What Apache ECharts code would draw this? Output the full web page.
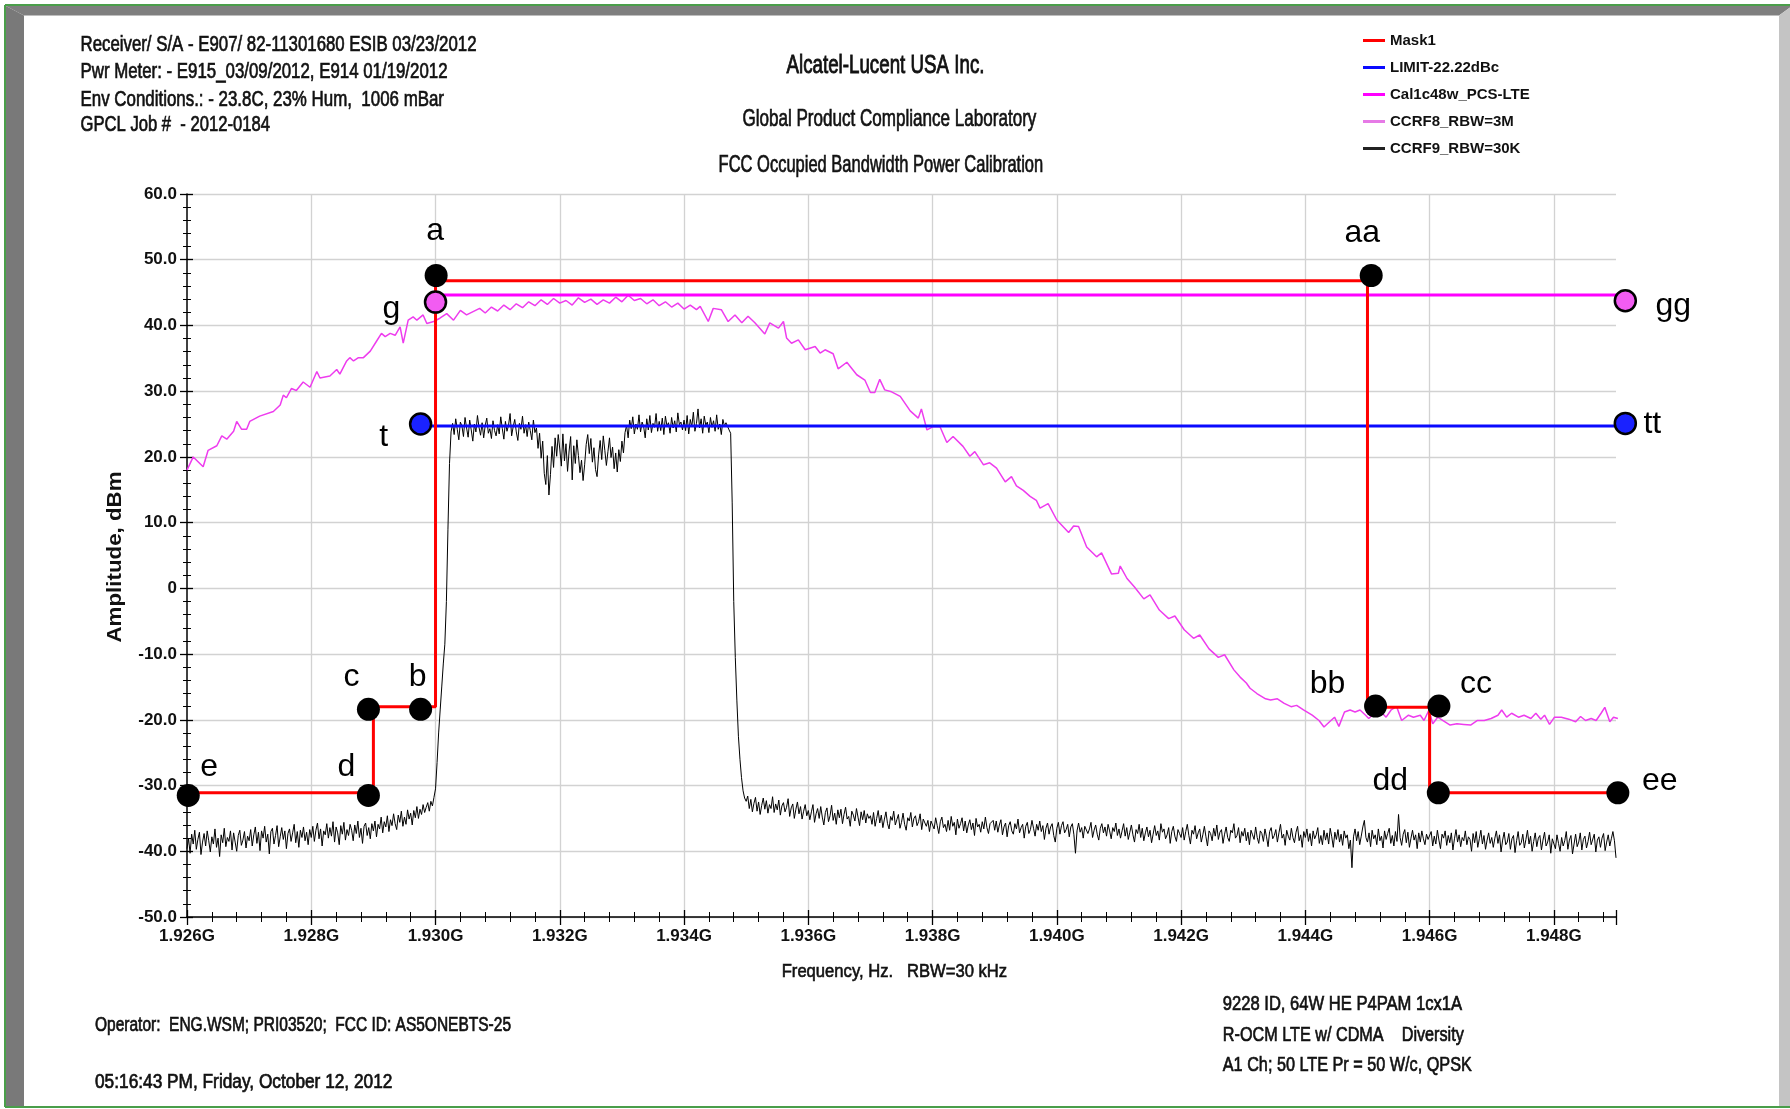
<!DOCTYPE html>
<html><head><meta charset="utf-8">
<script src="https://cdn.jsdelivr.net/npm/echarts@6.0.0/dist/echarts.min.js"></script>
<style>html,body{margin:0;padding:0;background:#fff}#c{width:1790px;height:1109px}</style>
</head><body><div id="c"></div>
<script>
// ---------------- DATA ----------------
// Frequencies in MHz, amplitudes in dBm
const X_MIN = 1926, X_MAX = 1949, X_STEP = 2;
const Y_MIN = -50, Y_MAX = 60, Y_STEP = 10;

const LEGEND_NAMES = ['Mask1', 'LIMIT-22.22dBc', 'Cal1c48w_PCS-LTE', 'CCRF8_RBW=3M', 'CCRF9_RBW=30K'];

// Mask1 (red) path
const MASK_FREQ = [1926.0, 1929.0, 1929.0, 1930.0, 1930.0, 1945.0, 1945.0, 1946.0, 1946.0, 1949.0];
const MASK_AMP  = [-31.1, -31.1, -18.0, -18.0, 46.8, 46.8, -18.1, -18.1, -31.1, -31.1];

// LIMIT-22.22dBc (blue)
const LIMIT_FREQ = [1929.76, 1949.15];
const LIMIT_AMP  = [24.7, 24.7];

// Cal1c48w_PCS-LTE (magenta)
const CAL_FREQ = [1930.0, 1949.15];
const CAL_AMP  = [44.65, 44.65];

// Marker points
const MASK_PT_NAMES = ['a', 'aa', 'b', 'bb', 'c', 'cc', 'd', 'dd', 'e', 'ee'];
const MASK_PT_FREQ  = [1930.01, 1945.06, 1929.76, 1945.13, 1928.92, 1946.15, 1928.92, 1946.14, 1926.02, 1949.03];
const MASK_PT_AMP   = [47.6, 47.6, -18.4, -17.9, -18.4, -17.9, -31.5, -31.1, -31.5, -31.1];
const CAL_PT_NAMES = ['g', 'gg'];
const CAL_PT_FREQ  = [1930.0, 1949.15];
const CAL_PT_AMP   = [43.55, 43.75];
const LIMIT_PT_NAMES = ['t', 'tt'];
const LIMIT_PT_FREQ  = [1929.76, 1949.15];
const LIMIT_PT_AMP   = [25.0, 25.1];

// CCRF8_RBW=3M trace (light magenta)
const CCRF8_FREQ = [1926.00,1926.10,1926.26,1926.34,1926.48,1926.56,1926.64,1926.75,1926.80,1926.88,1926.96,1927.01,1927.17,1927.39,1927.50,1927.55,1927.60,1927.68,1927.76,1927.87,1927.98,1928.09,1928.14,1928.30,1928.41,1928.46,1928.57,1928.62,1928.68,1928.76,1928.84,1928.95,1929.05,1929.13,1929.19,1929.27,1929.35,1929.43,1929.48,1929.56,1929.64,1929.70,1929.80,1929.86,1929.97,1930.07,1930.18,1930.29,1930.40,1930.50,1930.71,1930.80,1930.90,1931.00,1931.10,1931.20,1931.30,1931.40,1931.50,1931.60,1931.70,1931.80,1931.90,1932.00,1932.10,1932.20,1932.30,1932.40,1932.50,1932.60,1932.70,1932.80,1932.90,1933.00,1933.10,1933.20,1933.30,1933.40,1933.50,1933.60,1933.70,1933.80,1933.90,1934.00,1934.10,1934.20,1934.26,1934.39,1934.47,1934.60,1934.71,1934.82,1934.93,1935.03,1935.14,1935.30,1935.38,1935.52,1935.60,1935.65,1935.73,1935.84,1935.95,1936.11,1936.19,1936.27,1936.40,1936.48,1936.62,1936.78,1936.91,1937.00,1937.07,1937.15,1937.23,1937.34,1937.48,1937.64,1937.77,1937.82,1937.91,1938.01,1938.12,1938.23,1938.33,1938.49,1938.60,1938.68,1938.82,1938.92,1939.03,1939.17,1939.27,1939.35,1939.46,1939.57,1939.67,1939.73,1939.86,1940.00,1940.19,1940.27,1940.35,1940.48,1940.64,1940.72,1940.88,1940.99,1941.02,1941.13,1941.25,1941.40,1941.50,1941.65,1941.80,1941.90,1942.05,1942.20,1942.30,1942.45,1942.60,1942.70,1942.85,1942.95,1943.05,1943.11,1943.22,1943.36,1943.44,1943.55,1943.66,1943.77,1943.86,1943.97,1944.11,1944.22,1944.30,1944.39,1944.47,1944.54,1944.63,1944.72,1944.80,1944.88,1944.97,1945.02,1945.11,1945.22,1945.30,1945.38,1945.47,1945.55,1945.66,1945.74,1945.85,1945.91,1945.99,1946.05,1946.13,1946.21,1946.33,1946.44,1946.55,1946.66,1946.77,1946.88,1946.99,1947.10,1947.16,1947.24,1947.32,1947.43,1947.52,1947.63,1947.71,1947.79,1947.85,1947.93,1948.01,1948.12,1948.24,1948.35,1948.43,1948.51,1948.60,1948.68,1948.76,1948.82,1948.90,1948.96,1949.03];
const CCRF8_AMP = [18.0,20.0,18.5,21.0,21.7,23.2,22.7,23.9,25.4,24.2,24.2,25.4,26.2,26.9,27.9,29.4,29.0,30.4,30.1,31.4,30.6,33.0,32.0,32.3,33.3,32.6,34.6,35.1,34.6,35.1,35.1,36.1,37.6,38.8,38.3,38.8,38.5,39.8,37.3,40.8,41.3,40.8,41.6,40.3,40.6,41.1,41.8,40.8,42.3,41.6,42.6,41.9,42.8,42.2,43.1,42.4,43.3,42.7,43.6,43.0,43.9,43.2,44.1,43.4,43.8,43.1,44.2,43.5,44.0,43.2,43.9,43.4,44.3,43.6,44.6,43.8,44.1,43.3,43.9,43.0,43.6,42.8,43.4,42.5,43.1,42.4,42.9,40.6,42.6,42.4,40.6,41.6,40.4,41.4,40.4,38.7,40.4,39.6,40.6,38.1,37.3,37.8,36.3,36.8,35.8,36.3,35.7,33.4,34.4,32.5,31.7,29.8,29.8,31.8,30.2,29.9,29.2,27.0,25.9,27.3,24.1,24.6,24.6,22.2,23.1,21.6,20.1,20.8,18.8,19.1,18.3,16.2,17.0,15.6,14.9,14.0,13.4,12.2,12.9,10.4,8.5,9.5,9.4,6.3,4.8,5.4,2.2,2.3,3.4,1.5,0.2,-1.6,-1.0,-3.3,-4.6,-4.2,-6.3,-7.6,-7.1,-9.2,-10.5,-10.1,-12.4,-13.5,-14.4,-15.2,-16.0,-16.8,-17.0,-16.8,-17.5,-18.0,-17.8,-18.5,-19.3,-20.1,-21.1,-20.3,-19.6,-21.0,-18.8,-18.5,-18.8,-18.5,-19.3,-19.8,-19.0,-18.8,-19.6,-18.5,-18.0,-20.1,-19.3,-19.6,-19.3,-20.1,-18.5,-20.6,-19.6,-20.1,-20.8,-20.6,-20.7,-20.8,-20.1,-20.1,-19.8,-19.3,-18.5,-19.6,-19.0,-19.6,-19.3,-19.8,-19.0,-19.9,-19.3,-20.7,-19.6,-19.6,-19.9,-20.3,-19.5,-20.1,-19.8,-20.1,-19.0,-18.1,-20.3,-19.6,-19.8];

// CCRF9_RBW=30K trace (black): sweep from 1926 MHz in 0.025 MHz steps (40 readings per MHz)
const CCRF9_START = 1926.0, CCRF9_STEP = 0.025;
const CCRF9_AMP = [
// 1926
-39.6,-38.1,-40.3,-37.4,-38.9,-36.8,-39.7,-38.2,-37.1,-40.5,-38.6,-37.3,-39.2,-36.9,-38.4,-40.1,-37.8,-38.9,-36.6,-39.4,
-38.0,-40.8,-37.5,-38.7,-36.5,-39.3,-37.9,-38.5,-36.9,-39.8,-37.2,-38.6,-40.0,-37.6,-36.8,-39.1,-38.3,-37.0,-39.5,-37.7,
// 1927
-38.4,-36.7,-39.2,-37.5,-36.3,-38.8,-37.1,-39.9,-36.9,-38.0,-36.2,-38.6,-37.4,-40.4,-37.0,-36.5,-38.9,-37.6,-36.1,-39.3,
-37.8,-36.4,-38.2,-36.9,-39.6,-37.3,-36.6,-38.5,-37.2,-35.9,-38.7,-37.0,-39.4,-36.8,-37.9,-36.3,-38.4,-37.1,-39.0,-36.7,
// 1928
-37.9,-36.2,-38.5,-36.8,-35.7,-38.1,-36.6,-39.2,-36.9,-37.5,-35.8,-38.0,-36.4,-37.7,-35.5,-38.6,-36.3,-37.2,-39.0,-36.1,
-37.4,-35.6,-38.3,-36.7,-37.6,-35.9,-36.8,-38.4,-36.0,-37.3,-35.4,-37.9,-36.5,-38.8,-36.2,-35.7,-37.6,-36.4,-38.1,-35.8,
// 1929
-36.9,-35.4,-37.8,-35.9,-36.6,-34.8,-37.2,-35.5,-36.3,-34.6,-37.0,-35.2,-36.1,-34.3,-35.8,-36.7,-34.5,-35.6,-33.9,-36.2,
-34.8,-35.9,-33.7,-35.1,-34.2,-36.0,-33.8,-34.9,-33.2,-35.0,-33.6,-34.4,-32.9,-34.1,-33.3,-32.6,-33.9,-32.4,-33.1,-31.8,
// 1930
-30.5,-26.5,-22.0,-18.5,-15.0,-11.5,-8.5,-2.0,9.0,19.0,23.8,25.1,23.4,25.8,24.2,22.6,25.3,24.7,23.1,26.0,
24.4,23.0,25.6,24.1,22.4,25.0,23.8,26.3,24.5,23.3,25.2,22.9,24.8,25.9,23.6,24.3,22.8,25.5,24.0,23.2,
// 1931
24.9,23.5,26.1,24.3,22.7,25.4,23.9,24.8,26.6,23.2,24.6,25.7,23.8,22.5,25.1,24.2,26.2,23.6,24.9,23.1,
25.3,24.0,22.6,25.6,23.7,24.4,21.3,23.6,19.8,22.4,17.5,15.8,20.2,14.2,17.3,21.6,18.4,22.9,20.1,23.4,
// 1932
21.2,18.6,23.5,19.4,22.0,17.8,20.9,23.1,16.5,21.7,19.0,22.6,20.2,17.6,19.5,16.4,18.8,21.9,23.4,20.5,
22.8,19.2,21.4,18.1,17.0,20.3,22.5,19.6,23.2,21.0,18.7,20.8,22.9,19.9,21.5,18.2,20.6,17.7,21.1,19.3,
// 1933
22.4,20.6,23.7,24.8,22.9,25.6,24.3,26.1,23.5,25.0,24.2,26.4,23.8,25.3,24.6,22.9,25.8,24.1,26.3,23.7,
25.1,24.5,26.6,23.9,25.4,24.0,25.9,23.4,26.2,24.7,25.2,23.6,26.0,24.4,25.5,23.8,26.7,24.9,25.3,24.1,
// 1934
25.6,24.0,26.3,23.5,25.7,24.6,26.8,23.9,25.1,27.3,24.4,25.8,23.6,26.2,24.8,25.3,23.7,26.0,24.5,25.5,
23.9,26.4,24.2,25.0,23.4,25.7,24.7,25.2,25.0,24.1,23.6,13.0,-2.0,-10.5,-17.0,-22.5,-26.0,-28.8,-30.8,-31.9,
// 1935
-32.4,-31.6,-33.5,-32.1,-34.0,-32.7,-31.8,-33.9,-32.5,-34.4,-33.0,-31.9,-33.6,-32.3,-34.2,-32.9,-33.5,-31.7,-34.1,-32.8,
-33.7,-32.2,-34.5,-33.1,-32.6,-34.0,-33.3,-32.0,-34.7,-33.4,-32.8,-35.0,-33.6,-32.5,-34.3,-33.2,-35.1,-33.9,-32.9,-34.6,
// 1936
-33.8,-35.2,-34.0,-32.9,-35.6,-34.3,-33.5,-35.0,-33.2,-34.8,-36.0,-34.1,-33.4,-35.5,-34.6,-33.0,-35.3,-34.2,-35.9,-33.7,
-34.9,-33.6,-35.8,-34.4,-33.3,-35.1,-34.7,-36.2,-33.9,-34.5,-35.4,-33.5,-34.8,-36.1,-34.0,-35.2,-33.8,-35.7,-34.3,-35.0,
// 1937
-34.6,-35.9,-34.1,-36.2,-35.0,-33.8,-35.7,-34.5,-36.4,-35.1,-34.0,-35.8,-36.6,-34.7,-35.3,-33.9,-36.0,-35.2,-34.4,-36.5,
-35.6,-34.2,-35.9,-36.8,-34.9,-35.4,-34.1,-36.3,-35.0,-34.6,-36.1,-35.5,-34.3,-36.7,-35.1,-34.8,-36.2,-35.3,-37.0,-35.4,
// 1938
-35.2,-36.6,-34.9,-36.1,-37.3,-35.5,-34.8,-36.4,-35.9,-37.0,-35.3,-36.8,-34.7,-36.2,-35.6,-37.5,-35.1,-36.5,-35.8,-34.9,
-36.9,-35.4,-37.2,-36.0,-35.2,-36.7,-35.7,-37.6,-35.0,-36.3,-35.9,-37.1,-35.5,-36.6,-34.8,-36.4,-37.3,-35.8,-36.1,-35.3,
// 1939
-36.8,-35.4,-37.1,-36.0,-35.2,-37.5,-36.3,-35.7,-37.8,-36.1,-35.5,-36.9,-37.4,-35.8,-36.6,-35.1,-37.2,-36.4,-35.9,-38.0,
-36.2,-35.6,-37.3,-36.7,-35.3,-36.5,-37.7,-35.9,-36.8,-35.4,-37.0,-36.1,-38.2,-36.5,-35.7,-37.4,-36.3,-35.8,-37.6,-38.6,
// 1940
-36.5,-35.6,-37.4,-36.1,-35.5,-37.2,-36.7,-35.9,-37.8,-36.3,-35.8,-37.5,-40.3,-36.9,-35.7,-37.1,-36.4,-38.0,-36.2,-35.9,
-37.3,-36.6,-35.6,-37.9,-36.8,-36.0,-37.4,-38.3,-36.5,-35.8,-37.2,-36.3,-37.7,-35.9,-36.9,-38.1,-36.4,-37.0,-35.7,-37.6,
// 1941
-36.6,-38.0,-36.9,-35.8,-37.7,-36.4,-38.2,-37.1,-36.0,-37.5,-38.6,-36.7,-37.3,-35.9,-37.9,-36.5,-38.4,-37.2,-36.3,-37.8,
-36.8,-38.7,-37.4,-36.1,-37.6,-36.9,-38.3,-35.8,-37.1,-36.6,-38.1,-37.5,-36.4,-38.8,-37.0,-36.2,-37.7,-38.5,-36.7,-37.3,
// 1942
-37.9,-36.4,-38.3,-37.0,-35.9,-37.6,-38.9,-36.8,-37.4,-36.1,-38.1,-37.2,-36.6,-38.6,-37.5,-36.2,-37.8,-39.2,-36.9,-37.3,
-38.4,-36.5,-37.7,-36.0,-38.2,-37.1,-36.7,-38.8,-37.4,-36.3,-37.9,-38.5,-36.8,-37.2,-35.8,-38.0,-37.6,-36.4,-38.7,-37.0,
// 1943
-37.7,-36.5,-38.4,-37.1,-39.0,-36.8,-37.5,-38.2,-36.3,-37.9,-38.8,-36.9,-37.3,-38.5,-36.6,-37.8,-39.3,-37.0,-36.4,-38.1,
-37.6,-36.7,-38.6,-37.2,-35.9,-38.0,-37.4,-39.1,-36.8,-37.7,-38.3,-36.5,-37.9,-38.7,-37.1,-36.2,-38.4,-37.5,-39.4,-37.0,
// 1944
-37.9,-36.6,-38.5,-37.3,-39.2,-36.9,-38.1,-37.5,-36.4,-38.8,-37.6,-39.0,-36.8,-38.3,-37.2,-38.9,-36.5,-37.8,-39.4,-37.1,
-38.2,-36.7,-38.6,-37.4,-39.1,-36.9,-38.0,-37.5,-39.6,-38.3,-42.5,-37.8,-36.6,-38.4,-37.0,-39.0,-37.7,-36.3,-35.3,-37.9,
// 1945
-38.6,-37.2,-39.3,-36.8,-38.1,-37.5,-39.0,-36.6,-38.4,-37.7,-39.5,-36.9,-38.2,-37.3,-36.5,-38.8,-37.6,-39.2,-37.0,-38.5,
-34.4,-37.9,-39.1,-37.4,-36.7,-38.7,-37.1,-39.4,-38.0,-36.8,-38.3,-37.5,-39.6,-37.2,-38.6,-36.9,-38.1,-39.0,-37.4,-38.2,
// 1946
-38.5,-37.0,-39.2,-37.7,-38.9,-36.8,-38.3,-39.6,-37.4,-38.0,-36.9,-39.1,-37.6,-38.7,-37.2,-39.8,-38.1,-36.7,-38.6,-37.5,
-39.3,-37.9,-38.4,-36.9,-39.0,-37.8,-38.2,-40.0,-37.3,-38.7,-37.0,-39.4,-38.1,-36.8,-38.9,-37.6,-39.7,-38.3,-37.2,-38.8,
// 1947
-37.9,-39.4,-38.0,-36.9,-38.8,-37.5,-40.1,-38.3,-37.1,-39.0,-38.6,-37.3,-39.7,-38.1,-37.6,-40.2,-38.4,-37.0,-39.1,-38.7,
-37.4,-39.5,-38.2,-36.8,-38.9,-37.7,-40.0,-38.5,-37.2,-39.3,-38.0,-37.6,-39.8,-38.3,-37.1,-39.2,-38.6,-37.5,-40.3,-38.1,
// 1948
-38.0,-39.6,-37.5,-38.8,-40.0,-37.9,-39.2,-38.4,-37.0,-39.7,-38.3,-37.6,-40.4,-38.9,-37.4,-39.3,-38.6,-37.2,-39.8,-38.2,
-37.7,-39.5,-38.5,-37.1,-39.0,-38.8,-37.4,-40.1,-38.3,-37.8,-39.4,-38.0,-37.3,-39.9,-38.6,-37.5,-39.2,-38.1,-37.0,-38.4,
// 1949
-41.0];

// Annotation texts
const HEADER_LINES = [
  'Receiver/ S/A - E907/ 82-11301680 ESIB 03/23/2012',
  'Pwr Meter: - E915_03/09/2012, E914 01/19/2012',
  'Env Conditions.: - 23.8C, 23% Hum,  1006 mBar',
  'GPCL Job #  - 2012-0184'
];
const TITLE_LINES = ['Alcatel-Lucent USA Inc.', 'Global Product Compliance Laboratory', 'FCC Occupied Bandwidth Power Calibration'];
const FOOTER_LEFT = ['Operator:  ENG.WSM; PRI03520;  FCC ID: AS5ONEBTS-25', '05:16:43 PM, Friday, October 12, 2012'];
const FOOTER_RIGHT = ['9228 ID, 64W HE P4PAM 1cx1A', 'R-OCM LTE w/ CDMA    Diversity', 'A1 Ch; 50 LTE Pr = 50 W/c, QPSK'];
const X_NAME = 'Frequency, Hz.   RBW=30 kHz';
const Y_NAME = 'Amplitude, dBm';

// ---------------- STYLE / LAYOUT ----------------
const LABEL_OFFSET = {
  a: [-1, -44], aa: [-9, -42], b: [-3, -32], bb: [-48, -22], c: [-17, -32], cc: [37, -22],
  d: [-22, -28], dd: [-48, -12], e: [21, -28], ee: [42, -12],
  g: [-44, 7], gg: [48, 5], t: [-37, 13], tt: [27, 1]
};

const ctx = document.createElement('canvas').getContext('2d');
const BASE = '"Liberation Sans", Arial, sans-serif';

function fitText(text, x, y, size, targetW, align, bold, rot, heavy) {
  const font = (bold ? 'bold ' : '') + size + 'px ' + BASE;
  ctx.font = font;
  const w = ctx.measureText(text).width;
  return {
    type: 'text', x: x, y: y, scaleX: targetW / w, rotation: rot || 0, z: 20, silent: true,
    style: { text: text, x: 0, y: 0, font: font, fill: '#111', stroke: heavy ? '#111' : null, lineWidth: heavy || 0,
             align: align, verticalAlign: 'middle' }
  };
}

const graphics = [
  // frame
  { type: 'polygon', z: 1, silent: true, shape: { points: [[6, 6], [1790, 6], [1790, 7.5], [1779, 15.5], [24, 15.5]] }, style: { fill: '#7f7f7f' } },
  { type: 'polygon', z: 1, silent: true, shape: { points: [[6, 6], [24, 15.5], [24, 1106], [6, 1106]] }, style: { fill: '#797979' } },
  { type: 'polygon', z: 1, silent: true, shape: { points: [[1779, 15.5], [1790, 7.5], [1790, 1106], [1779, 1106]] }, style: { fill: '#c4c4c4' } },
  { type: 'line', z: 2, silent: true, shape: { x1: 5, y1: 5, x2: 1790, y2: 5 }, style: { stroke: '#4a9e4a', lineWidth: 2 } },
  { type: 'line', z: 2, silent: true, shape: { x1: 5, y1: 5, x2: 5, y2: 1107 }, style: { stroke: '#4a9e4a', lineWidth: 2 } },
  { type: 'line', z: 2, silent: true, shape: { x1: 5, y1: 1107, x2: 1790, y2: 1107 }, style: { stroke: '#4a9e4a', lineWidth: 2 } },
  // header
  fitText(HEADER_LINES[0], 80.5, 45, 22, 396, 'left', false, 0, 0.7),
  fitText(HEADER_LINES[1], 80.5, 72, 22, 367, 'left', false, 0, 0.7),
  fitText(HEADER_LINES[2], 80.5, 100, 22, 363.5, 'left', false, 0, 0.7),
  fitText(HEADER_LINES[3], 80.5, 125, 22, 189.5, 'left', false, 0, 0.7),
  fitText(TITLE_LINES[0], 885.5, 66, 26, 198, 'center', false, 0, 0.9),
  fitText(TITLE_LINES[1], 889.4, 119.5, 24, 294, 'center', false, 0, 0.7),
  fitText(TITLE_LINES[2], 880.9, 165, 24, 324.6, 'center', false, 0, 0.7),
  fitText(FOOTER_LEFT[0], 95, 1025, 20, 416, 'left', false, 0, 0.7),
  fitText(FOOTER_LEFT[1], 95, 1082, 20, 297.4, 'left', false, 0, 0.7),
  fitText(FOOTER_RIGHT[0], 1222.8, 1004, 21, 239.3, 'left', false, 0, 0.7),
  fitText(FOOTER_RIGHT[1], 1222.8, 1035, 21, 241, 'left', false, 0, 0.7),
  fitText(FOOTER_RIGHT[2], 1222.8, 1065.5, 21, 249, 'left', false, 0, 0.7),
  fitText(X_NAME, 894.4, 972, 18, 225.4, 'center', false, 0, 0.6),
  fitText(Y_NAME, 115.5, 557, 20, 171, 'center', true, Math.PI / 2, 0)
];

const xFormatter = function (v) {
  const r = Math.round(v);
  if (Math.abs(v - r) > 1e-6 || (r - X_MIN) % X_STEP !== 0) return '';
  return (r / 1000).toFixed(3) + 'G';
};
const yFormatter = function (v) { return v === 0 ? '0' : v.toFixed(1); };

const tickLine = { color: '#000', width: 1.3 };
const xAxisMain = {
  type: 'value', min: X_MIN, max: X_MAX, interval: X_STEP, position: 'bottom',
  axisLine: { show: true, onZero: false, lineStyle: { color: '#000', width: 1.5 } },
  axisTick: { show: true, inside: false, length: 8, lineStyle: tickLine },
  minorTick: { show: true, splitNumber: 5, length: 5, lineStyle: { color: '#000', width: 1 } },
  axisLabel: { show: true, margin: 11, fontWeight: 'bold', fontSize: 17, fontFamily: BASE, color: '#111', formatter: xFormatter },
  splitLine: { show: true, showMinLine: false, showMaxLine: false, lineStyle: { color: '#d2d2d2', width: 1.3 } },
  minorSplitLine: { show: false }
};
const xAxisInner = {
  type: 'value', min: X_MIN, max: X_MAX, interval: X_STEP, position: 'bottom',
  axisLine: { show: false, onZero: false },
  axisTick: { show: true, inside: true, length: 7, lineStyle: tickLine },
  minorTick: { show: true, splitNumber: 5, length: 5, lineStyle: { color: '#000', width: 1 } },
  axisLabel: { show: false }, splitLine: { show: false }
};
const yAxisMain = {
  type: 'value', min: Y_MIN, max: Y_MAX, interval: Y_STEP, position: 'left',
  axisLine: { show: true, onZero: false, lineStyle: { color: '#000', width: 1.5 } },
  axisTick: { show: true, inside: false, length: 7, lineStyle: tickLine },
  minorTick: { show: true, splitNumber: 5, length: 4, lineStyle: { color: '#000', width: 1 } },
  axisLabel: { show: true, margin: 10, fontWeight: 'bold', fontSize: 17, fontFamily: BASE, color: '#111', formatter: yFormatter },
  splitLine: { show: true, lineStyle: { color: '#d2d2d2', width: 1.3 } },
  minorSplitLine: { show: false }
};
const yAxisInner = {
  type: 'value', min: Y_MIN, max: Y_MAX, interval: Y_STEP, position: 'left',
  axisLine: { show: false, onZero: false },
  axisTick: { show: true, inside: true, length: 6, lineStyle: tickLine },
  minorTick: { show: true, splitNumber: 5, length: 4, lineStyle: { color: '#000', width: 1 } },
  axisLabel: { show: false }, splitLine: { show: false }
};

function pairs(xs, ys) { return xs.map(function (x, i) { return [x, ys[i]]; }); }
function markerData(names, xs, ys) {
  return names.map(function (n, i) {
    return { name: n, value: [xs[i], ys[i]], label: { offset: LABEL_OFFSET[n] } };
  });
}
const markerLabel = {
  show: true, position: 'inside', formatter: '{b}', fontSize: 32, fontFamily: BASE,
  color: '#000', textBorderWidth: 0
};

const option = {
  animation: false,
  backgroundColor: '#ffffff',
  grid: { left: 187, right: 174, top: 194, bottom: 192, containLabel: false, outerBoundsMode: 'none' },
  legend: {
    show: true, orient: 'vertical', left: 1363, top: 33, padding: 0,
    itemWidth: 22, itemHeight: 3, itemGap: 12, icon: 'rect', selectedMode: false,
    textStyle: { fontSize: 15, fontWeight: 'bold', fontFamily: BASE, color: '#111' },
    data: LEGEND_NAMES
  },
  xAxis: [xAxisMain, xAxisInner],
  yAxis: [yAxisMain, yAxisInner],
  graphic: graphics,
  series: [
    { type: 'line', name: LEGEND_NAMES[4], xAxisIndex: 0, yAxisIndex: 0, z: 2,
      data: CCRF9_AMP.map(function (v, i) { return [CCRF9_START + i * CCRF9_STEP, v]; }),
      showSymbol: false, symbol: 'none', lineStyle: { color: '#000', width: 1 }, itemStyle: { color: '#222' } },
    { type: 'line', name: LEGEND_NAMES[3], z: 3, data: pairs(CCRF8_FREQ, CCRF8_AMP),
      showSymbol: false, symbol: 'none', lineStyle: { color: '#ee3cee', width: 1.5 }, itemStyle: { color: '#e67ae6' } },
    { type: 'line', name: LEGEND_NAMES[2], z: 4, data: pairs(CAL_FREQ, CAL_AMP), clip: false,
      showSymbol: false, symbol: 'none', lineStyle: { color: '#ff00ff', width: 3 }, itemStyle: { color: '#ff00ff' } },
    { type: 'line', name: LEGEND_NAMES[1], z: 4, data: pairs(LIMIT_FREQ, LIMIT_AMP), clip: false,
      showSymbol: false, symbol: 'none', lineStyle: { color: '#0a0aff', width: 3 }, itemStyle: { color: '#0a0aff' } },
    { type: 'line', name: LEGEND_NAMES[0], z: 5, data: pairs(MASK_FREQ, MASK_AMP), clip: false,
      showSymbol: false, symbol: 'none', lineStyle: { color: '#ff0000', width: 3 }, itemStyle: { color: '#ff0000' } },
    { type: 'scatter', name: 'maskPoints', z: 6, clip: false, silent: true,
      data: markerData(MASK_PT_NAMES, MASK_PT_FREQ, MASK_PT_AMP), symbol: 'circle', symbolSize: 23,
      itemStyle: { color: '#000', opacity: 1 }, label: markerLabel },
    { type: 'scatter', name: 'calPoints', z: 6, clip: false, silent: true,
      data: markerData(CAL_PT_NAMES, CAL_PT_FREQ, CAL_PT_AMP), symbol: 'circle', symbolSize: 21,
      itemStyle: { color: '#f25cf2', borderColor: '#000', borderWidth: 2.5, opacity: 1 }, label: markerLabel },
    { type: 'scatter', name: 'limitPoints', z: 6, clip: false, silent: true,
      data: markerData(LIMIT_PT_NAMES, LIMIT_PT_FREQ, LIMIT_PT_AMP), symbol: 'circle', symbolSize: 21,
      itemStyle: { color: '#1a22ff', borderColor: '#000', borderWidth: 2.5, opacity: 1 }, label: markerLabel }
  ]
};

const chart = echarts.init(document.getElementById('c'), null, { renderer: 'canvas' });
chart.setOption(option);
</script></body></html>
